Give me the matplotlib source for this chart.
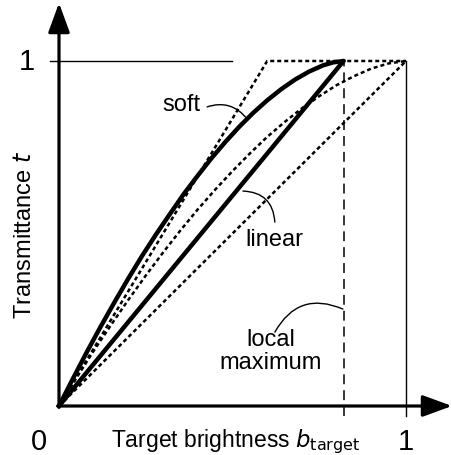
import matplotlib.pyplot as plt
import numpy as np

plt.rcParams['font.family'] = ['Liberation Sans', 'DejaVu Sans']

# local maximum position on the brightness axis
b_local = 0.82

# soft curve for the local maximum (solid)
soft_b = [0.0, 0.04, 0.08, 0.12, 0.16, 0.20, 0.24, 0.28, 0.32, 0.36, 0.40,
          0.44, 0.48, 0.52, 0.56, 0.60, 0.64, 0.68, 0.72, 0.76, 0.79, 0.82]
soft_t = [0.0, 0.079, 0.156, 0.230, 0.301, 0.370, 0.436, 0.498, 0.557, 0.615, 0.668,
          0.719, 0.766, 0.810, 0.850, 0.886, 0.918, 0.946, 0.969, 0.987, 0.996, 1.0]

# soft curve for the global maximum (dotted)
gsoft_b = [0.0, 0.05, 0.1, 0.15, 0.2, 0.25, 0.3, 0.35, 0.4, 0.45, 0.5,
           0.55, 0.6, 0.65, 0.7, 0.75, 0.8, 0.85, 0.9, 0.95, 1.0]
gsoft_t = [0.0, 0.081, 0.160, 0.235, 0.308, 0.378, 0.445, 0.509, 0.570, 0.627, 0.681,
           0.732, 0.780, 0.823, 0.863, 0.898, 0.930, 0.956, 0.978, 0.993, 1.0]

# linear curves
lin_b = [0.0, b_local]
lin_t = [0.0, 1.0]
glin_b = [0.0, 1.0]
glin_t = [0.0, 1.0]

# hard clip (dotted)
clip_b = [0.0, 0.60, 1.0]
clip_t = [0.0, 1.0, 1.0]

fig = plt.figure(figsize=(4.52, 4.56), dpi=100)
ax = fig.add_axes([0, 0, 1, 1])
ax.set_xlim(-59 / 347, 393 / 347)
ax.set_ylim(-49 / 345, 407 / 345)
ax.axis('off')

dot = (0, (1.6, 1.2))
ax.plot(clip_b, clip_t, color='k', lw=1.8, ls=dot)
ax.plot(gsoft_b, gsoft_t, color='k', lw=1.8, ls=dot)
ax.plot(glin_b, glin_t, color='k', lw=1.8, ls=dot)

ax.plot(soft_b, soft_t, color='k', lw=3.2, solid_capstyle='round', solid_joinstyle='round')
ax.plot(lin_b, lin_t, color='k', lw=3.2, solid_capstyle='round')

# guide lines
ax.plot([-0.026, 0.50], [1, 1], color='k', lw=1.0)
ax.plot([1, 1], [-0.03, 1], color='k', lw=1.0)
ax.plot([b_local, b_local], [-0.03, 1], color='k', lw=1.1, ls=(0, (6.5, 3.9)))

# axes with arrows
arrow = dict(arrowstyle='-|>,head_length=0.9,head_width=0.33',
             lw=2.3, color='k', mutation_scale=20, shrinkA=0, shrinkB=0)
ax.annotate('', xy=(393 / 347, 0), xytext=(-0.004, 0), arrowprops=arrow)
ax.annotate('', xy=(0, 403 / 345), xytext=(0, -0.004), arrowprops=arrow)

# tick labels
ax.text(-0.092, 1.0, '1', fontsize=21, ha='center', va='center')
ax.text(-0.058, -0.102, '0', fontsize=21, ha='center', va='center')
ax.text(1.0, -0.102, '1', fontsize=21, ha='center', va='center')

ax.text(0.508, -0.102, 'Target brightness $b_{\\mathrm{target}}$', fontsize=16.5,
        ha='center', va='center')
ax.text(-0.098, 0.5, 'Transmittance $t$', fontsize=17, rotation=90,
        ha='center', va='center')

ax.text(0.354, 0.875, 'soft', fontsize=17, ha='center', va='center')
ax.text(0.622, 0.485, 'linear', fontsize=17, ha='center', va='center')
ax.text(0.611, 0.160, 'local\nmaximum', fontsize=17, ha='center', va='center',
        linespacing=1.05)

# leader lines
leader = dict(arrowstyle='-', color='k', lw=1.0, shrinkA=0, shrinkB=0)
ax.annotate('', xy=(0.542, 0.832), xytext=(0.427, 0.867),
            arrowprops=dict(leader, connectionstyle='arc3,rad=-0.35'))
ax.annotate('', xy=(0.622, 0.533), xytext=(0.530, 0.623),
            arrowprops=dict(leader, connectionstyle='arc3,rad=-0.45'))
ax.annotate('', xy=(0.622, 0.214), xytext=(0.818, 0.281),
            arrowprops=dict(leader, connectionstyle='arc3,rad=0.45'))

fig.savefig('out.png', dpi=100)
